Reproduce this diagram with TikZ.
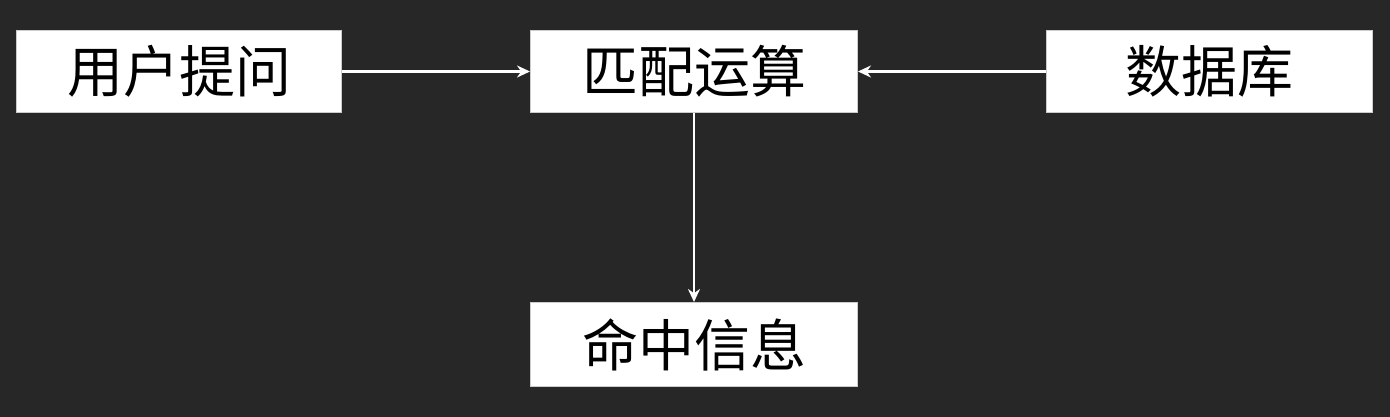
\documentclass[tikz,border=0pt]{standalone}
\usepackage{fontspec}
\setmainfont{Noto Sans CJK SC}
\usetikzlibrary{arrows.meta}
\definecolor{bgdark}{HTML}{272727}
\tikzset{
  x=1pt, y=-1pt,
  box/.style={draw=gray!40, line width=1pt, fill=white, inner sep=0pt, anchor=north west, font=\fontsize{56}{60}\selectfont, text=black},
  conn/.style={draw=white, line width=2.4pt, -{Stealth[length=13pt,width=12pt]}}
}
\begin{document}
\begin{tikzpicture}
\fill[bgdark] (0,0) rectangle (1390,417);
\useasboundingbox (0,0) rectangle (1390,417);
\node[box, minimum width=325pt, minimum height=82pt] (q) at (16,30) {用户提问};
\node[box, minimum width=327pt, minimum height=82pt] (m) at (530,30) {匹配运算};
\node[box, minimum width=326pt, minimum height=82pt] (d) at (1046,30) {数据库};
\node[box, minimum width=327pt, minimum height=84pt] (h) at (530,302) {命中信息};
\draw[conn] (q.east) -- (m.west);
\draw[conn] (d.west) -- (m.east);
\draw[conn] (m.south -| h.north) -- (h.north);
\end{tikzpicture}
\end{document}
